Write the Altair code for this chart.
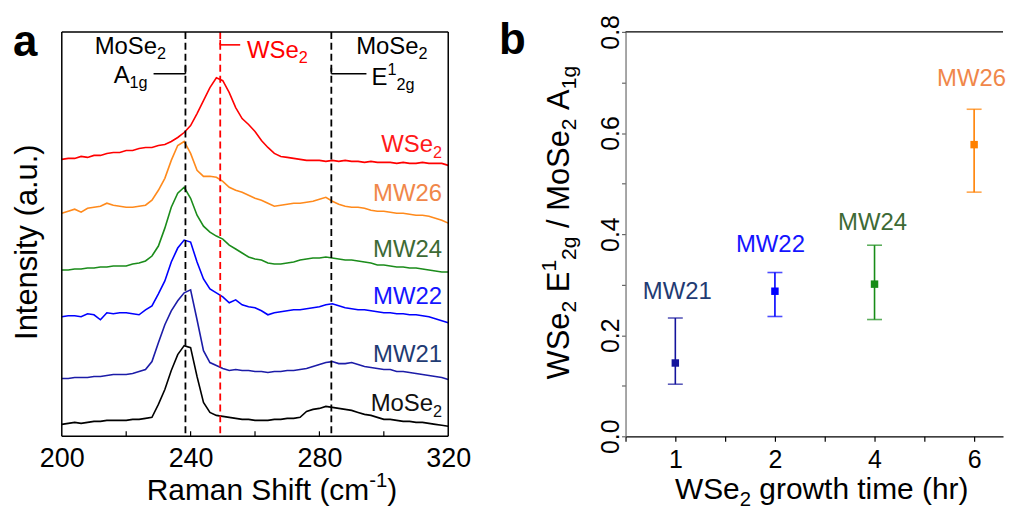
import altair as alt
import pandas as pd

FONT = "Liberation Sans"

# ---------------- panel a : Raman spectra (a.u., offset stacked) ----------------
raman_shift = list(range(200, 321, 2))
int_wse2 = [278, 279, 279, 281, 280, 282, 282, 284, 285, 285,
            287, 287, 289, 290, 290, 292, 293, 296, 300, 305,
            312, 324, 337, 350, 360, 357, 345, 330, 319, 313,
            306, 297, 290, 284, 281, 280, 279, 278, 277, 277,
            277, 276, 277, 276, 277, 276, 276, 275, 276, 275,
            275, 275, 274, 275, 274, 274, 275, 274, 274, 274,
            272]
int_mw26 = [224, 226, 228, 225, 229, 230, 231, 234, 232, 231,
            230, 230, 231, 232, 237, 247, 259, 277, 292, 296,
            284, 267, 261, 261, 260, 256, 250, 247, 245, 242,
            239, 237, 234, 231, 232, 233, 234, 234, 235, 236,
            238, 240, 236, 233, 231, 230, 230, 229, 227, 226,
            226, 225, 224, 224, 223, 222, 222, 221, 219, 217,
            214]
int_mw24 = [167, 167, 168, 168, 169, 169, 170, 170, 171, 171,
            171, 173, 174, 176, 181, 191, 209, 230, 244, 250,
            239, 222, 211, 205, 201, 198, 192, 188, 184, 180,
            178, 177, 174, 173, 173, 174, 175, 177, 178, 179,
            179, 180, 179, 178, 177, 177, 176, 175, 174, 172,
            172, 171, 170, 170, 169, 169, 168, 167, 166, 165,
            165]
int_mw22 = [120, 121, 121, 120, 123, 122, 117, 124, 123, 124,
            124, 123, 122, 127, 131, 143, 156, 175, 189, 197,
            195, 175, 158, 148, 144, 140, 134, 137, 132, 130,
            129, 126, 122, 124, 125, 126, 127, 127, 128, 129,
            130, 132, 133, 131, 129, 128, 127, 127, 126, 125,
            124, 124, 123, 123, 122, 122, 121, 120, 118, 116,
            114]
int_mw21 = [58, 58, 59, 59, 59, 60, 60, 61, 62, 62,
            62, 63, 65, 67, 75, 94, 112, 126, 136, 144,
            147, 117, 86, 74, 71, 68, 66, 67, 66, 66,
            65, 65, 64, 65, 65, 66, 66, 67, 68, 70,
            72, 74, 75, 73, 73, 74, 72, 70, 69, 68,
            67, 67, 65, 65, 64, 63, 62, 61, 60, 59,
            57]
int_mose2 = [12, 13, 14, 13, 14, 15, 15, 16, 16, 16,
             16, 17, 17, 18, 19, 32, 47, 66, 82, 91,
             89, 60, 34, 24, 21, 20, 19, 18, 17, 17,
             16, 16, 16, 17, 17, 18, 18, 19, 25, 27,
             28, 30, 29, 28, 27, 26, 24, 22, 21, 19,
             17, 17, 16, 15, 15, 14, 14, 13, 12, 11,
             10]

series_names = ["WSe2", "MW26", "MW24", "MW22", "MW21", "MoSe2"]
series_values = [int_wse2, int_mw26, int_mw24, int_mw22, int_mw21, int_mose2]
series_colors = ["#ff0000", "#ff8a1c", "#1b8c1b", "#0000ff", "#1c1ca8", "#000000"]
label_colors = ["#ff1a1a", "#f0874a", "#3d6a35", "#1414ff", "#1f3b73", "#111111"]
label_level = [285, 236, 180, 133, 75, 25]

peak_pos = [238.4, 249.2, 283.7]
peak_color = ["#000000", "#ff0000", "#000000"]

# ---------------- panel b : intensity ratio ----------------
growth_hours = [1, 2, 4, 6]
samples = ["MW21", "MW22", "MW24", "MW26"]
ratio = [0.145, 0.287, 0.301, 0.577]
ratio_lo = [0.103, 0.237, 0.231, 0.483]
ratio_hi = [0.234, 0.324, 0.378, 0.647]
point_colors = ["#14149c", "#0000ff", "#178c17", "#ff8000"]
sample_label_colors = ["#1f3b73", "#1414ff", "#3d6a35", "#f0874a"]
sample_label_y = [0.271, 0.364, 0.409, 0.693]
sample_label_dx = [0.02, -0.045, -0.02, -0.025]

# ---------------- rich text helper (Arial / Liberation Sans metrics) ----------------
WIDTHS = {' ': 278, '(': 333, ')': 333, '-': 333, '.': 278, '/': 278,
          'A': 667, 'E': 667, 'I': 278, 'M': 833, 'R': 722, 'S': 667, 'W': 944,
          'a': 556, 'c': 500, 'e': 556, 'f': 278, 'g': 556, 'h': 556, 'i': 222,
          'm': 833, 'n': 556, 'o': 556, 'r': 333, 's': 500, 't': 278, 'u': 556,
          'w': 722, 'y': 500}


def layout(pieces, size, align):
    out, pos = [], 0.0
    for txt, kind in pieces:
        fs = size if kind == "n" else round(size * 0.68, 1)
        dy = 0.0 if kind == "n" else (0.22 * size if kind == "sub" else -0.42 * size)
        lead = len(txt) - len(txt.lstrip(" "))
        out.append((txt.strip(" "), fs, pos + lead * 0.278 * fs, dy))
        pos += sum(WIDTHS.get(ch, 556) for ch in txt) * fs / 1000
    off = {"left": 0.0, "center": -pos / 2, "right": -pos}[align]
    return [(t, fs, round(p + off, 2), round(dy, 2)) for t, fs, p, dy in out]


def text_layers(pieces, size, color, align, pos, enc=None, angle=0, weight="normal"):
    layers = []
    for t, fs, dx, dy in layout(pieces, size, align):
        mk = dict(text=t, fontSize=fs, dx=dx, dy=dy, align="left", baseline="alphabetic",
                  color=color, font=FONT, fontWeight=weight)
        if angle:
            mk["angle"] = angle
        if enc is None:
            ch = alt.Chart(pd.DataFrame({"k": [0]})).mark_text(**mk).encode(
                x=alt.value(pos[0]), y=alt.value(pos[1]))
        else:
            xf, yf, fx, fy = enc
            ch = alt.Chart(pd.DataFrame({xf: [pos[0]], yf: [pos[1]]})).mark_text(**mk).encode(
                x=fx(xf), y=fy(yf))
        layers.append(ch)
    return layers


# ---------------- panel a ----------------
WA, HA = 388, 406
sx_a = alt.Scale(domain=[200, 320], nice=False, zero=False)
sy_a = alt.Scale(domain=[0, 406], nice=False, zero=False)
ax_xa = alt.Axis(values=[200, 240, 280, 320], labelFontSize=27, labelFont=FONT, labelColor="black",
                 ticks=False, tickSize=0, domain=False, grid=False, labelPadding=9, title=None,
                 labelFlush=False)


def XA(f):
    return alt.X(f"{f}:Q", scale=sx_a, axis=ax_xa, title=None)


def YA(f):
    return alt.Y(f"{f}:Q", scale=sy_a, axis=None, title=None)


enc_a = ("shift", "intensity", XA, YA)

rows = []
for name, vals in zip(series_names, series_values):
    for s, v in zip(raman_shift, vals):
        rows.append({"shift": s, "intensity": v, "series": name})
df_spec = pd.DataFrame(rows)

lines = alt.Chart(df_spec).mark_line(strokeWidth=1.6).encode(
    x=XA("shift"), y=YA("intensity"),
    color=alt.Color("series:N", scale=alt.Scale(domain=series_names, range=series_colors), legend=None),
    detail="series:N")

dashed = alt.Chart(pd.DataFrame({"shift": peak_pos, "c": peak_color})).mark_rule(
    strokeDash=[7, 4], strokeWidth=1.8).encode(x=XA("shift"), color=alt.Color("c:N", scale=None))

brackets = alt.Chart(pd.DataFrame({
    "shift": [228.5, 238.4, 249.2, 249.2, 283.7, 283.7],
    "shift2": [238.4, 238.4, 255.4, 249.2, 294.6, 283.7],
    "intensity": [364, 364, 393, 393, 364, 364],
    "intensity2": [364, 372, 393, 398, 364, 370],
    "c": ["#000000", "#000000", "#ff0000", "#ff0000", "#000000", "#000000"]})).mark_rule(
    strokeWidth=1.6).encode(x=XA("shift"), x2="shift2:Q", y=YA("intensity"), y2="intensity2:Q",
                            color=alt.Color("c:N", scale=None))

frame_v = alt.Chart(pd.DataFrame({"shift": [200, 320]})).mark_rule(
    color="black", strokeWidth=1.5).encode(x=XA("shift"))
frame_h = alt.Chart(pd.DataFrame({"intensity": [0, 406]})).mark_rule(
    color="black", strokeWidth=1.5).encode(y=YA("intensity"))
inner_ticks = alt.Chart(pd.DataFrame({"shift": [220, 240, 260, 280, 300],
                                      "intensity": [0] * 5, "intensity2": [5] * 5})).mark_rule(
    color="black", strokeWidth=1.2).encode(x=XA("shift"), y=YA("intensity"), y2="intensity2:Q")

layers_a = [lines, dashed, brackets, frame_v, frame_h, inner_ticks]

# peak annotations
layers_a += text_layers([("MoSe", "n"), ("2", "sub")], 24, "black", "center", (221.3, 384), enc_a)
layers_a += text_layers([("A", "n"), ("1g", "sub")], 24, "black", "left", (216.1, 355), enc_a)
layers_a += text_layers([("WSe", "n"), ("2", "sub")], 24, "#ff0000", "left", (257.5, 380), enc_a)
layers_a += text_layers([("MoSe", "n"), ("2", "sub")], 24, "black", "center", (302.5, 384), enc_a)
layers_a += text_layers([("E", "n"), ("1", "sup"), ("2g", "sub")], 24, "black", "left", (296.2, 353), enc_a)

# series labels
for name, col, lv in zip(series_names, label_colors, label_level):
    if name.endswith("Se2"):
        pcs = [(name[:-1], "n"), ("2", "sub")]
    else:
        pcs = [(name, "n")]
    layers_a += text_layers(pcs, 24, col, "right", (318.1, lv), enc_a)

# titles and panel letter (pixel positions relative to plot area)
layers_a += text_layers([("Raman Shift (cm", "n"), ("-1", "sup"), (")", "n")], 30, "black", "center", (211, 469.5))
layers_a += text_layers([("Intensity (a.u.)", "n")], 31, "black", "center", (-25, 211), angle=270)
layers_a += text_layers([("a", "n")], 44, "black", "left", (-49, 24), weight="bold")

panel_a = alt.layer(*layers_a).properties(width=WA, height=HA)

# ---------------- panel b ----------------
WB, HB = 379, 406
slots = [i + 1 for i in range(len(growth_hours))]
sx_b = alt.Scale(domain=[0.5, 4.29], nice=False, zero=False)
sy_b = alt.Scale(domain=[0, 0.8], nice=False, zero=False)
label_expr = " : ".join(f"datum.value == {s} ? '{h}'" for s, h in zip(slots, growth_hours)) + " : ''"
ax_xb = alt.Axis(values=[0.5, 1, 1.5, 2, 2.5, 3, 3.5, 4], labelExpr=label_expr, labelFontSize=25,
                 labelFont=FONT, labelColor="black", tickSize=5, tickColor="black", tickWidth=1.2,
                 domainColor="black", domainWidth=1.3, grid=False, labelPadding=6, title=None,
                 labelFlush=False)
ax_yb = alt.Axis(values=[0, 0.1, 0.2, 0.3, 0.4, 0.5, 0.6, 0.7, 0.8],
                 labelExpr="round(datum.value*10) % 2 == 0 ? format(datum.value, '.1f') : ''",
                 labelAngle=270, labelAlign="center", labelBaseline="alphabetic", labelFontSize=25,
                 labelFont=FONT, labelColor="black", tickSize=4, tickColor="#666666", tickWidth=1.2,
                 domainColor="#777777", domainWidth=1.3, grid=False, labelPadding=3, title=None,
                 labelFlush=False)


def XB(f):
    return alt.X(f"{f}:Q", scale=sx_b, axis=ax_xb, title=None)


def YB(f):
    return alt.Y(f"{f}:Q", scale=sy_b, axis=ax_yb, title=None)


enc_b = ("slot", "ratio", XB, YB)

df_b = pd.DataFrame({"slot": slots, "hours": growth_hours, "sample": samples, "ratio": ratio,
                     "lo": ratio_lo, "hi": ratio_hi, "c": point_colors})

top_line = alt.Chart(pd.DataFrame({"ratio": [0.8]})).mark_rule(color="black", strokeWidth=1.3).encode(
    y=YB("ratio"))
err = alt.Chart(df_b).mark_rule(strokeWidth=1.6).encode(
    x=XB("slot"), y=YB("lo"), y2="hi:Q", color=alt.Color("c:N", scale=None))
cap_lo = alt.Chart(df_b).mark_tick(orient="horizontal", size=15, thickness=1.6).encode(
    x=XB("slot"), y=YB("lo"), color=alt.Color("c:N", scale=None))
cap_hi = alt.Chart(df_b).mark_tick(orient="horizontal", size=15, thickness=1.6).encode(
    x=XB("slot"), y=YB("hi"), color=alt.Color("c:N", scale=None))
pts = alt.Chart(df_b).mark_square(size=56, opacity=1).encode(
    x=XB("slot"), y=YB("ratio"), color=alt.Color("c:N", scale=None))

layers_b = [top_line, err, cap_lo, cap_hi, pts]
for s, name, col, ly, ldx in zip(slots, samples, sample_label_colors, sample_label_y, sample_label_dx):
    layers_b += text_layers([(name, "n")], 24, col, "center", (s + ldx, ly), enc_b)

layers_b += text_layers([("WSe", "n"), ("2", "sub"), (" growth time (hr)", "n")], 30, "black",
                        "center", (197, 469))
layers_b += text_layers([("WSe", "n"), ("2", "sub"), (" E", "n"), ("1", "sup"), ("2g", "sub"),
                         (" / MoSe", "n"), ("2", "sub"), (" A", "n"), ("1g", "sub")], 31, "black",
                        "center", (-57, 191.5), angle=270)
layers_b += text_layers([("b", "n")], 44, "black", "left", (-127, 22), weight="bold")

panel_b = alt.layer(*layers_b).properties(width=WB, height=HB)

chart = alt.hconcat(panel_a, panel_b, spacing=28).properties(
    padding={"left": 4, "top": 5, "right": 0, "bottom": 0}
).configure_view(stroke=None)

chart.save("out.html", embed_options={"renderer": "svg", "actions": False})
